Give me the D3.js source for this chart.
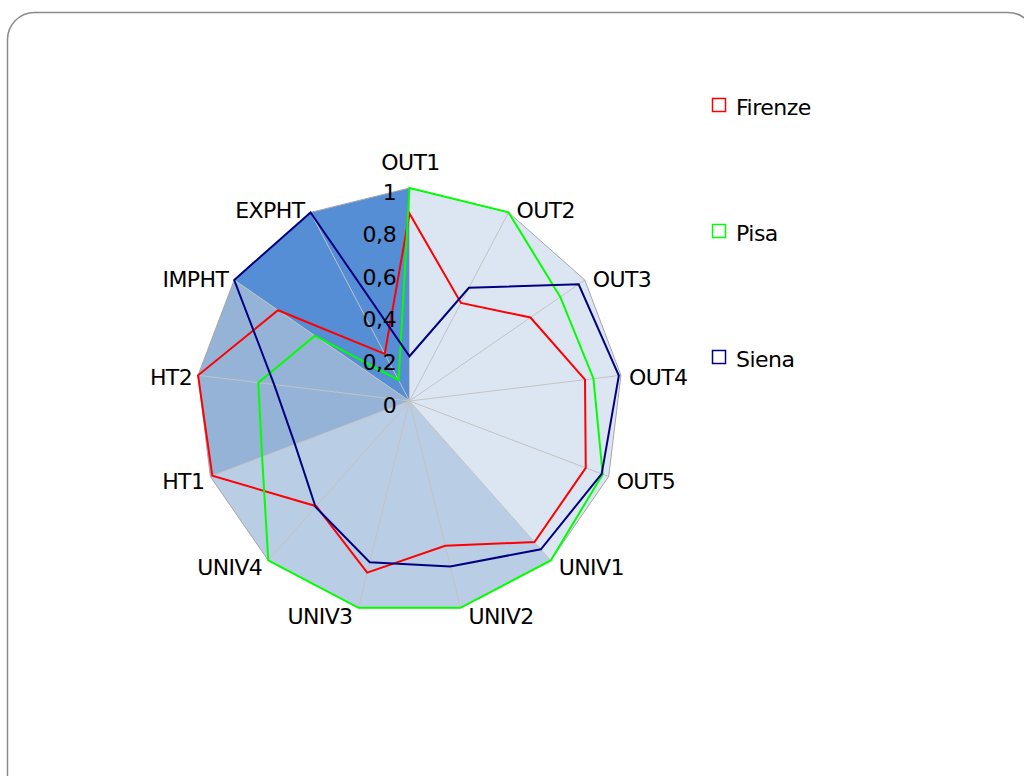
<!DOCTYPE html>
<html>
<head>
<meta charset="utf-8">
<script src="https://cdn.jsdelivr.net/npm/d3@7"></script>
<style>
  html, body { margin: 0; padding: 0; background: #ffffff; }
  svg { display: block; }
  text { font-family: "DejaVu Sans", sans-serif; fill: #000; }
</style>
</head>
<body>
<svg id="chart" width="1024" height="776"></svg>
<script>
// ---- data ----
const categories = ["OUT1","OUT2","OUT3","OUT4","OUT5","UNIV1","UNIV2","UNIV3","UNIV4","HT1","HT2","IMPHT","EXPHT"];
const firenze = [0.88,0.52,0.69,0.83,0.885,0.885,0.70,0.83,0.66,0.99,1.0,0.75,0.25];
const pisa    = [1.0,1.0,0.86,0.87,0.97,1.0,1.0,1.0,1.0,0.74,0.715,0.54,0.11];
const siena   = [0.21,0.60,0.965,0.99,0.965,0.93,0.80,0.78,0.665,0.575,0.64,1.0,1.0];
const seriesNames = ["Firenze","Pisa","Siena"];
const tickValues = [0,0.2,0.4,0.6,0.8,1];
const tickLabels = ["0","0,2","0,4","0,6","0,8","1"];
// background area bands (filled radar series)
const bandOut  = [1,1,1,1,1,1,0,0,0,0,0,0,0];
const bandUniv = [0,0,0,0,0,1,1,1,1,1,0,0,0];
const bandHt   = [0,0,0,0,0,0,0,0,0,1,1,1,0];
const bandImp  = [1,0,0,0,0,0,0,0,0,0,0,1,1];

// ---- layout ----
const svg = d3.select("#chart");
const cx = 409.5, cy = 401, R = 213;
const n = categories.length;

svg.append("rect")
  .attr("x", 7.5).attr("y", 12.5)
  .attr("width", 1027.5).attr("height", 820)
  .attr("rx", 27).attr("ry", 27)
  .attr("fill", "#fff").attr("stroke", "#8a8a8a").attr("stroke-width", 1.5);

const r = d3.scaleLinear().domain([0, 1]).range([0, R]);
const angle = d3.scaleLinear().domain([0, n]).range([0, 2 * Math.PI]);

const g = svg.append("g").attr("transform", `translate(${cx},${cy})`);

const radial = d3.lineRadial()
  .angle((d, i) => angle(i))
  .radius(d => r(d))
  .curve(d3.curveLinearClosed);

// bands
const bands = [
  {vals: bandOut,  color: "#dce6f2"},
  {vals: bandUniv, color: "#b9cde5"},
  {vals: bandHt,   color: "#95b3d7"},
  {vals: bandImp,  color: "#558ed5"}
];
g.selectAll("path.band").data(bands).join("path")
  .attr("class", "band")
  .attr("d", d => radial(d.vals))
  .attr("fill", d => d.color)
  .attr("stroke", "none");

// point helper
const pt = (i, v) => {
  const a = angle(i);
  return [Math.sin(a) * r(v), -Math.cos(a) * r(v)];
};

// spokes
g.selectAll("line.spoke").data(categories).join("line")
  .attr("class", "spoke")
  .attr("x1", 0).attr("y1", 0)
  .attr("x2", (d, i) => pt(i, 1)[0])
  .attr("y2", (d, i) => pt(i, 1)[1])
  .attr("stroke", "#c3c3c3").attr("stroke-width", 1);

// outer polygon
g.append("path")
  .attr("d", radial(categories.map(() => 1)))
  .attr("fill", "none").attr("stroke", "#a6a6a6").attr("stroke-width", 1);

// series
const series = [
  {name: seriesNames[0], vals: firenze, color: "#ff0000"},
  {name: seriesNames[1], vals: pisa,    color: "#00ff00"},
  {name: seriesNames[2], vals: siena,   color: "#000080"}
];
g.selectAll("path.series").data(series).join("path")
  .attr("class", "series")
  .attr("d", d => radial(d.vals))
  .attr("fill", "none")
  .attr("stroke", d => d.color)
  .attr("stroke-width", 2)
  .attr("stroke-linejoin", "miter");

// tick labels
g.selectAll("text.tick").data(tickValues).join("text")
  .attr("class", "tick")
  .attr("x", -13)
  .attr("y", d => -r(d) + 4)
  .attr("text-anchor", "end")
  .attr("dominant-baseline", "central")
  .attr("font-size", 22)
  .attr("letter-spacing", -0.3)
  .text((d, i) => tickLabels[i]);

// category labels
g.selectAll("text.cat").data(categories).join("text")
  .attr("class", "cat")
  .each(function(d, i) {
    const a = angle(i);
    const ux = Math.sin(a), uy = -Math.cos(a);
    const [px, py] = pt(i, 1);
    const t = d3.select(this);
    if (Math.abs(ux) < 0.1) {
      t.attr("x", px + 1).attr("y", py - 26).attr("text-anchor", "middle");
    } else {
      t.attr("x", px + (ux > 0 ? 8 : -6))
       .attr("y", py + 3 + 6 * uy)
       .attr("text-anchor", ux > 0 ? "start" : "end");
    }
  })
  .attr("dominant-baseline", "central")
  .attr("font-size", 22)
  .attr("letter-spacing", -0.6)
  .text(d => d);

// legend
const legendY = d3.scalePoint().domain(seriesNames).range([105, 357]);
const lg = svg.append("g");
const items = lg.selectAll("g.item").data(series).join("g")
  .attr("class", "item")
  .attr("transform", d => `translate(712,${legendY(d.name)})`);
items.append("rect")
  .attr("x", 0.5).attr("y", -6.5).attr("width", 13).attr("height", 13)
  .attr("fill", "none").attr("stroke", d => d.color).attr("stroke-width", 1.5);
items.append("text")
  .attr("x", 24).attr("y", 2)
  .attr("dominant-baseline", "central")
  .attr("font-size", 22)
  .attr("letter-spacing", -0.5)
  .text(d => d.name);
</script>
</body>
</html>
